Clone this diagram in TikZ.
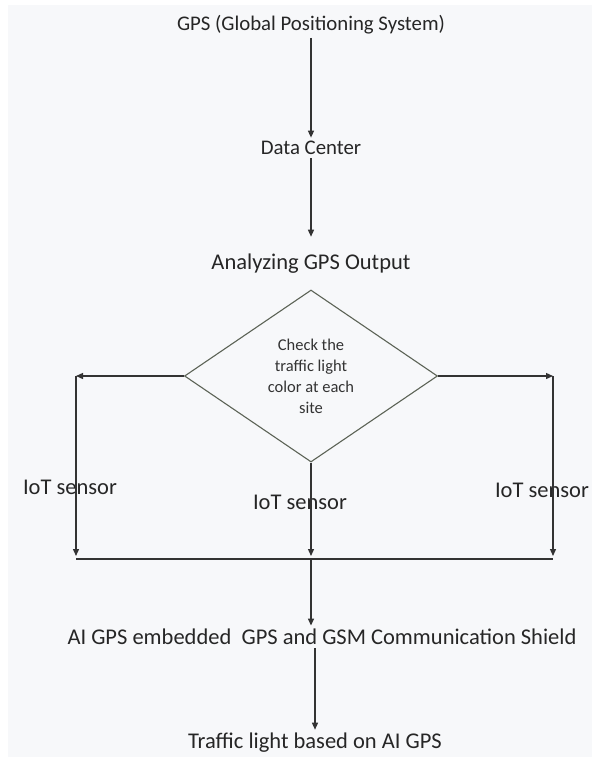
\documentclass[tikz,border=0pt]{standalone}
\usepackage{fontspec}
\setmainfont{Carlito}
\usetikzlibrary{shapes.geometric,arrows.meta}
\definecolor{pagebg}{HTML}{F7F8FA}
\definecolor{linegray}{HTML}{333333}
\definecolor{edgegray}{HTML}{5C6356}
\begin{document}
\begin{tikzpicture}[x=1pt,y=-1pt,
    flow/.style={draw=linegray,line width=1.3pt,-{Triangle[length=7pt,width=6pt]}},
    lineonly/.style={draw=linegray,line width=1.3pt},
    smalltext/.style={text=black!85,font=\fontsize{20.8}{24}\selectfont},
    bigtext/.style={text=black!85,font=\fontsize{22.5}{26}\selectfont},
    decision/.style={diamond,draw=edgegray,line width=1.1pt,minimum width=253pt,
      minimum height=172pt,inner sep=0pt,align=center,text=black!80,
      font=\fontsize{16.5}{21}\selectfont}]
      \useasboundingbox (0,0) rectangle (592,757);
      \fill[pagebg] (8,5) rectangle (592,757);
      \draw
        (311,25) node[smalltext] (gps){GPS (Global Positioning System)}
        (311,148) node[smalltext] (center){Data Center}
        (311,264) node[bigtext] (analyze){Analyzing GPS Output}
        (311,376) node[decision] (check){Check the\\traffic light\\color at each\\site}
        (70,487) node[bigtext] (sensorl){IoT sensor}
        (300,502) node[bigtext] (sensorm){IoT sensor}
        (542,490) node[bigtext] (sensorr){IoT sensor}
        (322,637) node[bigtext] (ai){AI GPS embedded\ \ GPS and GSM Communication Shield}
        (315,743) node[bigtext] (light){Traffic light based on AI GPS};
      \coordinate (lt) at (76,376);
      \coordinate (rt) at (553,376);
      \coordinate (lb) at (76,559);
      \coordinate (rb) at (553,559);
      \coordinate (mb) at (311,559);
      \begin{scope}[flow]
        \draw (gps) to (center);
        \draw[shorten >=14pt] (center) to (analyze);
        \draw (check.west) to (lt);
        \draw (check.east) to (rt);
        \draw[shorten >=3pt] (lt) to (lb);
        \draw[shorten >=3pt] (rt) to (rb);
        \draw[shorten >=3pt] (check.south) to (mb);
        \draw (mb) to (mb |- ai.north);
        \draw (light |- ai.south) to (light);
      \end{scope}
      \draw[lineonly] (lb) to (rb);
    \end{tikzpicture}
\end{document}
